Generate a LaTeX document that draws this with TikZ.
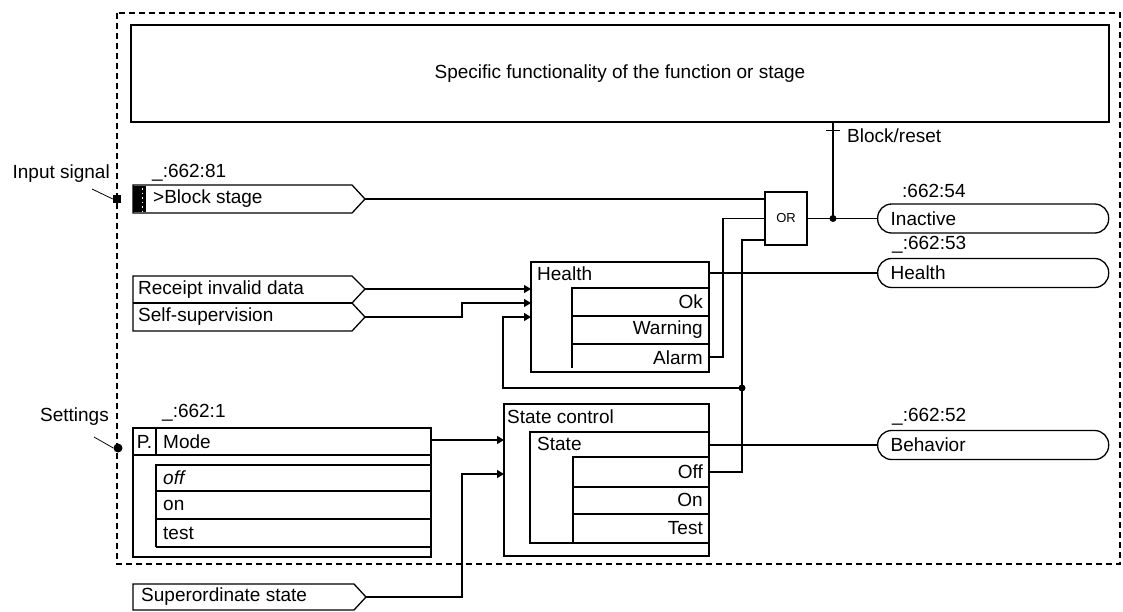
\documentclass[tikz,border=0pt]{standalone}
\usepackage{fontspec}
\setmainfont{Liberation Sans}
\usepackage{xcolor}
\definecolor{fbink}{RGB}{0,0,0}
\usetikzlibrary{arrows.meta, calc}

\begin{document}
\begin{tikzpicture}[x=1pt, y=-1pt,
  every node/.style={inner sep=0pt, font=\fontsize{19}{22}\selectfont, fbink},
  blk/.style={draw=fbink, line width=1.3pt},
  wire/.style={draw=fbink, line width=1.3pt},
  feed/.style={wire, -{Triangle[length=7pt,width=8pt]}},
  txt/.style={anchor=west},
  pill/.style={draw=fbink, line width=1.3pt, rounded corners=14pt, minimum height=29pt,
               text width=205pt, inner xsep=13pt, align=left, anchor=west}]
  \useasboundingbox (0,0) rectangle (1123,611);

  % Function block frame
  \draw[fbink, line width=1.1pt, dash pattern=on 6pt off 4pt] (117,13) rectangle (1120,564);

  % Specific functionality
  \node[blk, minimum width=978pt, minimum height=97pt] (spec) at (620,73.5)
       {Specific functionality of the function or stage};

  % Block stage input
  \draw[blk] (133,185) -- (352,185) -- (365,199) -- (352,213) -- (133,213) -- cycle;
  \fill[fbink] (133,186) rectangle (146,212);
  \draw[white, line width=1pt, dash pattern=on 1.5pt off 3pt] (142,188) -- (142,211);
  \node[txt] (blkstage) at (153,199) {>Block stage};
  \node[txt] (blkid) at (152,173) {\_:662:81};
  \coordinate (blkout) at (365,199);

  % Input signal
  \node[anchor=east] (insig) at (110,174) {Input signal};
  \node[fill=fbink, minimum size=8pt] (insq) at (117,199) {};
  \coordinate (insigtail) at (92,189);
  \draw[fbink, line width=0.8pt] (insigtail) -- (insq.west);

  % Receipt invalid data / Self-supervision
  \draw[blk] (133,276) -- (352,276) -- (365,289) -- (352,303) -- (365,317)
             -- (352,331) -- (133,331) -- cycle;
  \draw[blk] (133,303) -- (352,303);
  \node[txt] (rcpt) at (138,290) {Receipt invalid data};
  \node[txt] (selfsv) at (138,317) {Self-supervision};
  \coordinate (rcptout) at (365,289);
  \coordinate (selfout) at (365,317);

  % Health
  \draw[blk] (531,262) rectangle (709,372);
  \node[txt] (health) at (537,274) {Health};
  \draw[blk] (572,368) -- (572,288) -- (709,288);
  \draw[blk] (572,316) -- (709,316);
  \draw[blk] (572,344) -- (709,344);
  \node[anchor=east] (hok) at (703,302) {Ok};
  \node[anchor=east] (hwarn) at (703,330) {Warning};
  \node[anchor=east] (halarm) at (703,358) {Alarm};
  \coordinate (healthout) at (709,273);
  \coordinate (alarmout) at (709,357);

  % OR gate
  \node[blk, minimum width=42pt, minimum height=53pt, font=\fontsize{13}{15}\selectfont]
       (orgate) at (786,218.5) {OR};

  % Mode setting
  \node[anchor=east] (sett) at (109,417) {Settings};
  \node[fill=fbink, circle, minimum size=9pt] (settdot) at (118,448) {};
  \coordinate (setttail) at (94,437);
  \draw[fbink, line width=0.8pt] (setttail) -- (settdot.west);
  \node[txt] (modeid) at (162,413) {\_:662:1};
  \draw[blk] (133,428) rectangle (431,557);
  \draw[blk] (133,455) -- (431,455);
  \draw[blk] (156,428) -- (156,455);
  \node (pcell) at (144.5,441.5) {P.};
  \node[txt] (mode) at (163,442) {Mode};
  \draw[blk] (156,547) -- (156,465) -- (431,465);
  \draw[blk] (156,491) -- (431,491);
  \draw[blk] (156,519) -- (431,519);
  \draw[blk] (156,547) -- (431,547);
  \node[txt] (moff) at (163,478) {\textit{off}};
  \node[txt] (mon) at (163,505) {on};
  \node[txt] (mtest) at (163,533) {test};
  \coordinate (modeout) at (431,440);

  % State control
  \draw[blk] (504,404) rectangle (709,556);
  \node[txt] (stctl) at (507,417) {State control};
  \draw[blk] (530,432) rectangle (709,543);
  \node[txt] (state) at (537,444) {State};
  \draw[blk] (573,543) -- (573,457) -- (709,457);
  \draw[blk] (573,487) -- (709,487);
  \draw[blk] (573,514) -- (709,514);
  \node[anchor=east] (soff) at (703,472) {Off};
  \node[anchor=east] (son) at (703,500) {On};
  \node[anchor=east] (stest) at (703,528) {Test};
  \coordinate (stateout) at (709,445);
  \coordinate (offout) at (709,472);

  % Superordinate state
  \draw[blk] (133,584) -- (354,584) -- (366,597) -- (354,610) -- (133,610) -- cycle;
  \node[txt] (supst) at (141,597) {Superordinate state};
  \coordinate (supout) at (366,597);

  % Outputs
  \node[txt] (inactid) at (902,191) {:662:54};
  \node[pill] (inact) at (877,218.5) {Inactive};
  \node[txt] (healthid) at (892,245) {\_:662:53};
  \node[pill] (hpill) at (877,273) {Health};
  \node[txt] (behavid) at (892,417) {\_:662:52};
  \node[pill] (bpill) at (877,445) {Behavior};

  % Connections
  \coordinate (blkj) at (833,218.5);
  \coordinate (fbj) at (742,388);
  \draw[wire] (blkout) -- (blkout -| orgate.west);
  \draw[wire] (alarmout) -| (723,218.5) -- (orgate.west);
  \draw[wire] (offout) -| (742,240) -- (orgate.west |- 0,240);
  \fill[fbink] (fbj) circle (3.5);
  \draw[feed] (fbj) -| (503,317) -- (531,317);
  \draw[feed] (rcptout) -- (531,289);
  \draw[feed] (selfout) -| (462,303) -- (531,303);
  \draw[wire] (orgate.east) -- (inact.west);
  \draw[wire] (blkj) -- (blkj |- spec.south);
  \fill[fbink] (blkj) circle (3.5);
  \draw[fbink, line width=1pt] ($(blkj |- 0,130)+(-7,0)$) -- ++(14,0);
  \node[txt] (blkrst) at (847,136) {Block/reset};
  \draw[wire] (healthout) -- (hpill.west);
  \draw[wire] (stateout) -- (bpill.west);
  \draw[feed] (modeout) -- (504,440);
  \draw[feed] (supout) -| (462,474) -- (504,474);
\end{tikzpicture}
\end{document}
